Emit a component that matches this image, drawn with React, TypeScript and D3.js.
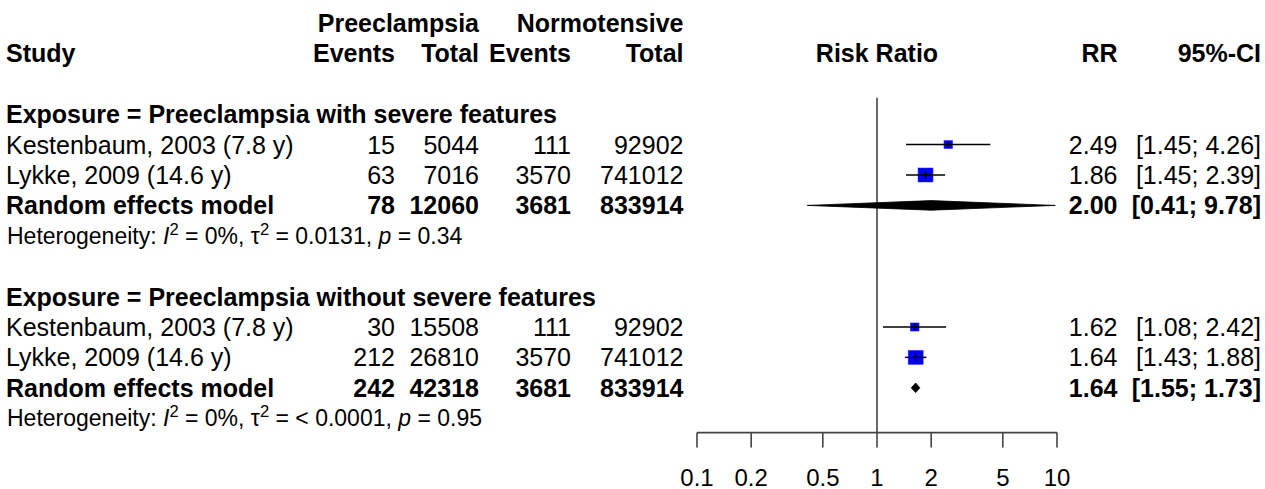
import React from "react";
import * as d3 from "d3";

// ---- data ----
const groupLabels = ["Preeclampsia with severe features", "Preeclampsia without severe features"];
const studyLabels = ["Kestenbaum, 2003 (7.8 y)", "Lykke, 2009 (14.6 y)"];
const eventsExp = [[15, 63], [30, 212]];
const totalExp = [[5044, 7016], [15508, 26810]];
const eventsCtl = [[111, 3570], [111, 3570]];
const totalCtl = [[92902, 741012], [92902, 741012]];
const rr = [[2.49, 1.86], [1.62, 1.64]];
const rrLower = [[1.45, 1.45], [1.08, 1.43]];
const rrUpper = [[4.26, 2.39], [2.42, 1.88]];
const weights = [[25, 75], [25, 75]];
const pooledEventsExp = [78, 242];
const pooledTotalExp = [12060, 42318];
const pooledEventsCtl = [3681, 3681];
const pooledTotalCtl = [833914, 833914];
const pooledRR = [2.0, 1.64];
const pooledLower = [0.41, 1.55];
const pooledUpper = [9.78, 1.73];
const hetI2 = ["0%", "0%"];
const hetTau2 = ["0.0131", "< 0.0001"];
const hetP = ["0.34", "0.95"];
const axisTicks = [0.1, 0.2, 0.5, 1, 2, 5, 10];

// ---- layout ----
const W = 1265;
const H = 489;
const FONT = "'Liberation Sans', Arial, Helvetica, sans-serif";
const FS = 25;
const FS_SMALL = 23;
const FS_TICK = 24;
const ROW0 = 32;
const ROWH = 30.4;
const baseline = (i: number) => ROW0 + ROWH * i;
const center = (i: number) => baseline(i) - 9;
const AXIS_Y = 432.6;

const x = d3.scaleLog().domain([0.1, 10]).range([697, 1057]);

const colStudy = 6;
const colEvE = 395;
const colTotE = 479;
const colEvC = 571;
const colTotC = 683.5;
const colRR = 1117.5;
const colCI = 1261;

function T({ x: tx, y, children, anchor = "start", bold = false, size = FS }: any) {
  return (
    <text
      x={tx}
      y={y}
      textAnchor={anchor}
      fontFamily={FONT}
      fontSize={size}
      fontWeight={bold ? "bold" : "normal"}
      fill="#000"
    >
      {children}
    </text>
  );
}

const fmt = (v: number) => v.toFixed(2);

export default function App() {
  const side = (w: number) => 1.62 * Math.sqrt(w);
  const rows: any[] = [];
  groupLabels.forEach((g, gi) => {
    const start = 3 + gi * 6;
    rows.push(<T key={`g${gi}`} x={colStudy} y={baseline(start)} bold>{`Exposure = ${g}`}</T>);
    studyLabels.forEach((s, si) => {
      const r = start + 1 + si;
      const cy = center(r);
      const sz = side(weights[gi][si]);
      rows.push(
        <g key={`s${gi}${si}`}>
          <T x={colStudy} y={baseline(r)}>{s}</T>
          <T x={colEvE} y={baseline(r)} anchor="end">{eventsExp[gi][si]}</T>
          <T x={colTotE} y={baseline(r)} anchor="end">{totalExp[gi][si]}</T>
          <T x={colEvC} y={baseline(r)} anchor="end">{eventsCtl[gi][si]}</T>
          <T x={colTotC} y={baseline(r)} anchor="end">{totalCtl[gi][si]}</T>
          <T x={colRR} y={baseline(r)} anchor="end">{fmt(rr[gi][si])}</T>
          <T x={colCI} y={baseline(r)} anchor="end">{`[${fmt(rrLower[gi][si])}; ${fmt(rrUpper[gi][si])}]`}</T>
          <rect
            x={x(rr[gi][si]) - (sz * 1.07) / 2}
            y={cy - sz / 2}
            width={sz * 1.07}
            height={sz}
            fill="#0000ff"
            stroke="#3030ff"
            strokeWidth={0.5}
          />
          <line x1={x(rrLower[gi][si])} x2={x(rrUpper[gi][si])} y1={cy} y2={cy} stroke="#000" strokeWidth={1.5} />
          <line x1={x(rr[gi][si])} x2={x(rr[gi][si])} y1={cy - 3.5} y2={cy + 3.5} stroke="#000" strokeWidth={1.5} />
        </g>
      );
    });
    const pr = start + 3;
    const pcy = center(pr);
    const dh = 4.8;
    const diamond = `M${x(pooledLower[gi])},${pcy} L${x(pooledRR[gi])},${pcy - dh} L${x(pooledUpper[gi])},${pcy} L${x(pooledRR[gi])},${pcy + dh} Z`;
    rows.push(
      <g key={`p${gi}`}>
        <T x={colStudy} y={baseline(pr)} bold>Random effects model</T>
        <T x={colEvE} y={baseline(pr)} anchor="end" bold>{pooledEventsExp[gi]}</T>
        <T x={colTotE} y={baseline(pr)} anchor="end" bold>{pooledTotalExp[gi]}</T>
        <T x={colEvC} y={baseline(pr)} anchor="end" bold>{pooledEventsCtl[gi]}</T>
        <T x={colTotC} y={baseline(pr)} anchor="end" bold>{pooledTotalCtl[gi]}</T>
        <T x={colRR} y={baseline(pr)} anchor="end" bold>{fmt(pooledRR[gi])}</T>
        <T x={colCI} y={baseline(pr)} anchor="end" bold>{`[${fmt(pooledLower[gi])}; ${fmt(pooledUpper[gi])}]`}</T>
        <path d={diamond} fill="#000" stroke="#000" strokeWidth={0.8} />
      </g>
    );
    const hr = start + 4;
    rows.push(
      <text
        key={`h${gi}`}
        x={colStudy + 1}
        y={baseline(hr) - 1}
        fontFamily={FONT}
        fontSize={FS_SMALL}
        fill="#000"
      >
        <tspan>Heterogeneity: </tspan>
        <tspan fontStyle="italic">I</tspan>
        <tspan dy={-9} fontSize={FS_SMALL * 0.72}>2</tspan>
        <tspan dy={9}>{` = ${hetI2[gi]}, τ`}</tspan>
        <tspan dy={-9} fontSize={FS_SMALL * 0.72}>2</tspan>
        <tspan dy={9}>{` = ${hetTau2[gi]}, `}</tspan>
        <tspan fontStyle="italic">p</tspan>
        <tspan>{` = ${hetP[gi]}`}</tspan>
      </text>
    );
  });

  return (
    <svg
      width={W}
      height={H}
      style={{ position: "absolute", left: 0, top: 0, background: "#fff" }}
    >
      <rect x={0} y={0} width={W} height={H} fill="#fff" />
      {/* headers */}
      <T x={colTotE} y={baseline(0)} anchor="end" bold>Preeclampsia</T>
      <T x={colTotC} y={baseline(0)} anchor="end" bold>Normotensive</T>
      <T x={colStudy} y={baseline(1)} bold>Study</T>
      <T x={colEvE} y={baseline(1)} anchor="end" bold>Events</T>
      <T x={colTotE} y={baseline(1)} anchor="end" bold>Total</T>
      <T x={colEvC} y={baseline(1)} anchor="end" bold>Events</T>
      <T x={colTotC} y={baseline(1)} anchor="end" bold>Total</T>
      <T x={x(1)} y={baseline(1)} anchor="middle" bold>Risk Ratio</T>
      <T x={colRR} y={baseline(1)} anchor="end" bold>RR</T>
      <T x={colCI} y={baseline(1)} anchor="end" bold>95%-CI</T>

      {/* reference line */}
      <line x1={x(1)} x2={x(1)} y1={center(2) + 14} y2={AXIS_Y} stroke="#444" strokeWidth={1.6} />

      {rows}

      {/* axis */}
      <line x1={x(0.1)} x2={x(10)} y1={AXIS_Y} y2={AXIS_Y} stroke="#444" strokeWidth={1.6} />
      {axisTicks.map((t) => (
        <g key={t}>
          <line x1={x(t)} x2={x(t)} y1={AXIS_Y} y2={AXIS_Y + 15} stroke="#444" strokeWidth={1.6} />
          <T x={x(t)} y={486} anchor="middle" size={FS_TICK}>{String(t)}</T>
        </g>
      ))}
    </svg>
  );
}
